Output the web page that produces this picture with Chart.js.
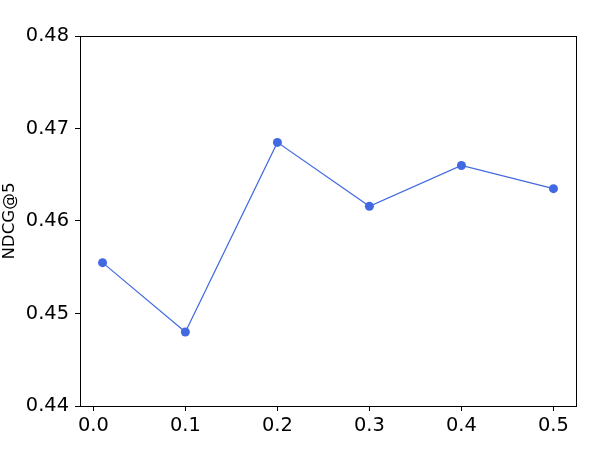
<!DOCTYPE html>
<html>
<head>
<meta charset="utf-8">
<script src="https://cdn.jsdelivr.net/npm/chart.js@4"></script>
<style>
  html, body { margin: 0; padding: 0; background: #fff; }
  #chart { display: block; }
</style>
</head>
<body>
<canvas id="chart" width="600" height="450"></canvas>
<script>
const alphas = [0.01, 0.1, 0.2, 0.3, 0.4, 0.5];
const ndcgValues = [0.4555, 0.4480, 0.4685, 0.4616, 0.4660, 0.4635];
const xTicks = [0.0, 0.1, 0.2, 0.3, 0.4, 0.5];
const yTicks = [0.44, 0.45, 0.46, 0.47, 0.48];

const frameBox = {
  id: "frameBox",
  afterDraw(chart) {
    const { ctx, chartArea } = chart;
    ctx.save();
    ctx.strokeStyle = "#000";
    ctx.lineWidth = 1;
    ctx.strokeRect(
      Math.round(chartArea.left) + 0.5,
      Math.round(chartArea.top) + 0.5,
      Math.round(chartArea.right - chartArea.left),
      Math.round(chartArea.bottom - chartArea.top)
    );
    ctx.restore();
  },
};

const tickFont = { family: "DejaVu Sans", size: 19.4 };

new Chart(document.getElementById("chart"), {
  type: "scatter",
  data: {
    datasets: [
      {
        data: alphas.map((a, i) => ({ x: a, y: ndcgValues[i] })),
        showLine: true,
        borderColor: "#4169E1",
        borderWidth: 1.2,
        pointRadius: 4.5,
        pointBackgroundColor: "#4169E1",
        pointBorderColor: "#4169E1",
        pointBorderWidth: 0,
      },
    ],
  },
  options: {
    responsive: false,
    animation: false,
    layout: { padding: { top: 36, right: 24, left: 0, bottom: 0 } },
    plugins: { legend: { display: false }, tooltip: { enabled: false } },
    scales: {
      x: {
        type: "linear",
        min: -0.0145,
        max: 0.5245,
        afterBuildTicks(scale) {
          scale.ticks = xTicks.map((v) => ({ value: v }));
        },
        afterFit(scale) {
          scale.height = 44;
        },
        ticks: {
          color: "#000",
          font: tickFont,
          padding: 3,
          maxRotation: 0,
          callback: (v) => Number(v).toFixed(1),
        },
        grid: { drawOnChartArea: false, color: "#000", tickLength: 5 },
        border: { color: "#000", width: 1 },
      },
      y: {
        min: 0.44,
        max: 0.48,
        afterBuildTicks(scale) {
          scale.ticks = yTicks.map((v) => ({ value: v }));
        },
        afterFit(scale) {
          scale.width = 80;
        },
        ticks: {
          color: "#000",
          font: tickFont,
          padding: 6,
          callback: (v) => Number(v).toFixed(2),
        },
        title: {
          display: true,
          text: "NDCG@5",
          color: "#000",
          font: { family: "DejaVu Sans", size: 16.7 },
          padding: { top: 0, bottom: 0 },
        },
        grid: { drawOnChartArea: false, color: "#000", tickLength: 5 },
        border: { color: "#000", width: 1 },
      },
    },
  },
  plugins: [frameBox],
});
</script>
</body>
</html>
